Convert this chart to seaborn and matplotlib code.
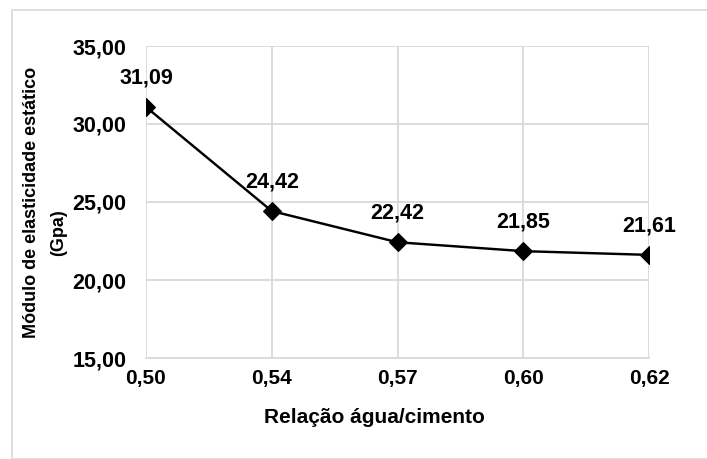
import matplotlib
matplotlib.use("Agg")
import matplotlib.pyplot as plt
import seaborn as sns
import pandas as pd
from matplotlib.patches import Rectangle

categories = ["0,50", "0,54", "0,57", "0,60", "0,62"]
values = [31.09, 24.42, 22.42, 21.85, 21.61]
value_labels = ["31,09", "24,42", "22,42", "21,85", "21,61"]
y_ticks = [15, 20, 25, 30, 35]
y_tick_labels = ["15,00", "20,00", "25,00", "30,00", "35,00"]
x_title = "Relação água/cimento"
y_title = "Módulo de elasticidade estático"
y_unit = "(Gpa)"

sns.set_theme(style="white")
plt.rcParams['font.family'] = ['Liberation Sans', 'DejaVu Sans']
plt.rcParams['font.weight'] = 'bold'
plt.rcParams['text.color'] = 'black'
plt.rcParams['axes.labelcolor'] = 'black'
plt.rcParams['xtick.color'] = 'black'
plt.rcParams['ytick.color'] = 'black'

df = pd.DataFrame({"x": list(range(len(categories))), "y": values})

W, H = 707, 459
L, R, T, B = 146, 649, 46, 358
fig = plt.figure(figsize=(W/100, H/100), dpi=100)
ax = fig.add_axes([L/W, 1-B/H, (R-L)/W, (B-T)/H])

sns.lineplot(data=df, x="x", y="y", ax=ax, color="black", linewidth=1.75,
             marker="D", markersize=9.5, markeredgecolor="black", markerfacecolor="black")

ax.set_xlim(0, len(categories)-1)
ax.set_ylim(15, 35)
ax.set_xticks(range(len(categories)))
ax.set_xticklabels(categories, fontsize=15, fontweight="bold")
ax.set_yticks(y_ticks)
ax.set_yticklabels(y_tick_labels, fontsize=15.5, fontweight="bold")
ax.tick_params(axis="x", length=0, pad=8)
ax.tick_params(axis="y", length=0, pad=14)

ax.grid(True, color="#d9d9d9", linewidth=1.3)
ax.set_axisbelow(True)
for s in ["top", "right", "left"]:
    ax.spines[s].set_visible(False)
ax.spines["bottom"].set_color("#d9d9d9")
ax.spines["bottom"].set_linewidth(1.3)

for i, (v, lab) in enumerate(zip(values, value_labels)):
    ax.annotate(lab, (i, v), xytext=(0, 17), textcoords="offset points",
                ha="center", va="baseline", fontsize=15.5, fontweight="bold")

ax.set_xlabel(x_title, fontsize=15, fontweight="bold", labelpad=14)
ax.xaxis.label.set_x((374 - L) / (R - L))

ax.set_ylabel(y_title, fontsize=13, fontweight="bold")
ax.yaxis.set_label_coords((40 - L) / (R - L), 0.5)
ax.text((67 - L) / (R - L), (B - 233) / (B - T), y_unit, transform=ax.transAxes,
        rotation=90, rotation_mode="anchor", ha="center", va="bottom",
        fontsize=13, fontweight="bold")

fig.patches.append(Rectangle((12/W, 0), 1, 1-10/H, transform=fig.transFigure,
                             fill=False, edgecolor="#d9d9d9", linewidth=1.2))

fig.savefig("out.png", dpi=100, facecolor="white")
